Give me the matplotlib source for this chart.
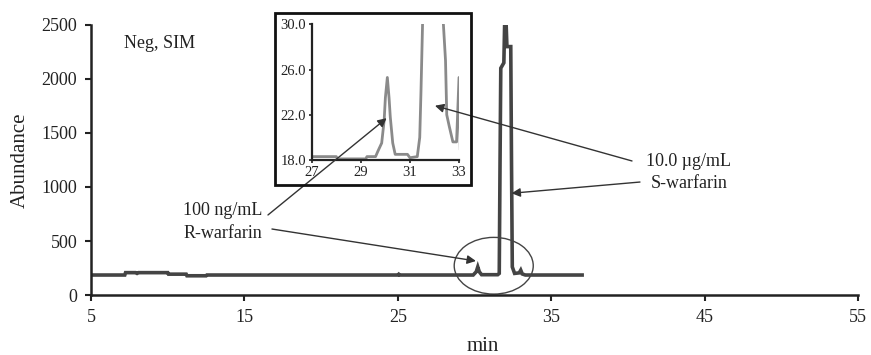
import matplotlib as mpl
mpl.use("Agg")
import matplotlib.pyplot as plt
from matplotlib.patches import Ellipse, Rectangle

# main chromatogram (min, abundance)
main_time = [5.0, 7.2, 7.25, 7.9, 8.0, 8.1, 10.0, 10.05, 11.2, 11.25, 12.5, 12.55,
             25.0, 25.05, 25.1, 29.9, 30.1, 30.2, 30.3, 30.45, 31.5, 31.6, 31.65,
             31.7, 31.9, 31.95, 32.05, 32.1, 32.35, 32.4, 32.45, 32.6, 32.9, 33.0,
             33.1, 33.3, 37.0]
main_abund = [185, 185, 207, 207, 200, 207, 207, 193, 193, 178, 178, 185,
              185, 192, 185, 185, 215, 260, 215, 188, 188, 200, 1200,
              2100, 2150, 2500, 2500, 2300, 2300, 1200, 260, 200, 205, 230,
              195, 185, 185]

# zoomed trace (inset)
inset_time = [27.0, 28.0, 28.05, 29.2, 29.25, 29.6, 29.7, 29.85, 29.95, 30.0, 30.08,
              30.15, 30.2, 30.3, 30.4, 30.9, 31.0, 31.3, 31.4, 31.45, 31.52, 31.9,
              32.35, 32.45, 32.5, 32.6, 32.75, 32.9, 33.0, 33.05]
inset_abund = [18.3, 18.3, 18.1, 18.1, 18.3, 18.3, 18.8, 19.5, 21.5, 23.5, 25.3,
               23.5, 21.8, 19.5, 18.5, 18.5, 18.2, 18.3, 20.0, 24.0, 30.5, 40.0,
               30.5, 26.8, 22.0, 21.0, 19.6, 19.6, 25.3, 19.0]

x_ticks = [5, 15, 25, 35, 45, 55]
y_ticks = [0, 500, 1000, 1500, 2000, 2500]
inset_xticks = [27, 29, 31, 33]
inset_yticks = [18.0, 22.0, 26.0, 30.0]

plt.rcParams.update({
    "font.family": "Liberation Serif",
    "axes.spines.top": False,
    "axes.spines.right": False,
    "xtick.direction": "out",
    "ytick.direction": "out",
})

fig = plt.figure(figsize=(8.71, 3.55), dpi=100)
ax = fig.add_axes([0.1045, 0.169, 0.881, 0.7606])

ax.plot(main_time, main_abund, color="#444444", lw=2.6, solid_joinstyle="miter")
ax.set_xlim(5, 55)
ax.set_ylim(0, 2500)
ax.set_xticks(x_ticks)
ax.set_yticks(y_ticks)
ax.tick_params(labelsize=13, length=4, width=1.5, pad=6, colors="#222")
for s in ("left", "bottom"):
    ax.spines[s].set_linewidth(1.8)
    ax.spines[s].set_color("#222")
ax.set_xlabel("min", fontsize=15, color="#222")
ax.set_ylabel("Abundance", fontsize=15, color="#222", labelpad=8)
ax.xaxis.set_label_coords(0.51, -0.155)

ax.text(7.15, 2330, "Neg, SIM", fontsize=13, color="#222", va="center", ha="left")

ax.add_patch(Ellipse((31.24, 271), 5.15, 525, fill=False, edgecolor="#444",
                     lw=1.0, clip_on=False))

ax.text(13.6, 778, "100 ng/mL", fontsize=13, color="#222", ha="center", va="center")
ax.text(13.6, 574, "R-warfarin", fontsize=13, color="#222", ha="center", va="center")
ax.text(43.96, 1235, "10.0 \u00b5g/mL", fontsize=13, color="#222", ha="center", va="center")
ax.text(43.96, 1037, "S-warfarin", fontsize=13, color="#222", ha="center", va="center")

# inset
ax_in = fig.add_axes([0.3579, 0.5493, 0.1691, 0.3822])
ax_in.plot(inset_time, inset_abund, color="#8a8a8a", lw=2.0)
ax_in.set_xlim(27, 33)
ax_in.set_ylim(18, 30)
ax_in.set_xticks(inset_xticks)
ax_in.set_yticks(inset_yticks)
ax_in.set_yticklabels([f"{v:.1f}" for v in inset_yticks])
ax_in.tick_params(labelsize=10.5, length=2, width=1.2, pad=2, colors="#222")
for s in ("left", "bottom"):
    ax_in.spines[s].set_linewidth(1.6)
    ax_in.spines[s].set_color("#222")

fig.patches.append(Rectangle((0.3157, 0.4789), 0.2247, 0.4845, fill=False,
                             edgecolor="#111", lw=2.0, transform=fig.transFigure,
                             figure=fig))

arrow = dict(arrowstyle="-|>", color="#333", lw=1.0, mutation_scale=13,
             shrinkA=0, shrinkB=0)
ax_in.annotate("", xy=(30.05, 21.7), xycoords=ax_in.transData,
               xytext=(16.53, 741), textcoords=ax.transData,
               arrowprops=arrow, annotation_clip=False)
ax_in.annotate("", xy=(32.02, 22.8), xycoords=ax_in.transData,
               xytext=(40.25, 1241), textcoords=ax.transData,
               arrowprops=arrow, annotation_clip=False)
ax_in.annotate("", xy=(30.08, 315), xycoords=ax.transData,
               xytext=(16.79, 611), textcoords=ax.transData,
               arrowprops=arrow, annotation_clip=False)
ax_in.annotate("", xy=(32.4, 942), xycoords=ax.transData,
               xytext=(40.77, 1046), textcoords=ax.transData,
               arrowprops=arrow, annotation_clip=False)

fig.savefig("out.png", dpi=100)
